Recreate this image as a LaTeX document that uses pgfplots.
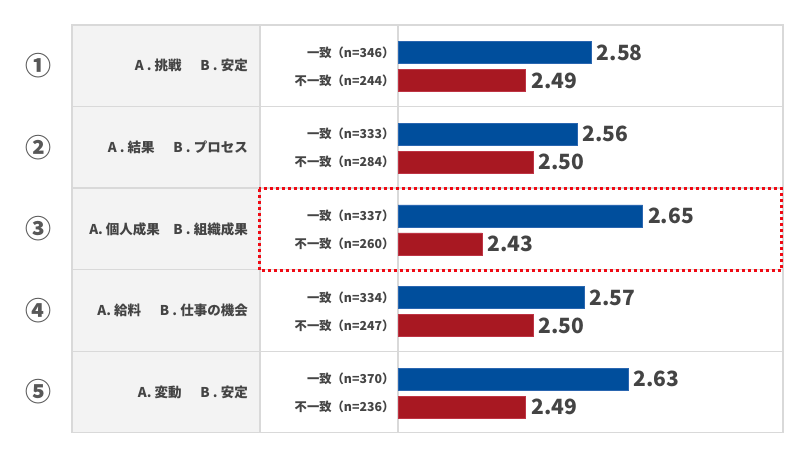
\documentclass[border=0pt]{standalone}
\usepackage{pgfplots}
\pgfplotsset{compat=1.18}
\usepackage{fontspec}
\setmainfont{Noto Sans CJK JP}
\definecolor{barblue}{HTML}{004E9C}
\definecolor{barblueedge}{HTML}{2A66B0}
\definecolor{barred}{HTML}{A81822}
\definecolor{barrededge}{HTML}{BE3444}
\definecolor{gridgray}{HTML}{D9D9D9}
\definecolor{cellgray}{HTML}{F3F3F3}
\definecolor{txt}{HTML}{444444}
\definecolor{circ}{HTML}{585858}
\definecolor{dotred}{HTML}{F00A14}
\begin{document}
\begin{tikzpicture}[x=1pt,y=1pt]
\useasboundingbox (0,0) rectangle (790,-459);
% table background and grid
\fill[cellgray] (72,-25) rectangle (260,-432.7);
\draw[gridgray,line width=1.4pt] (72,-25) rectangle (783,-432.7);
\foreach \yy in {106.5,188.1,269.6,351.2}{
  \draw[gridgray,line width=1.4pt] (72,-\yy) -- (783,-\yy);
}
\draw[gridgray,line width=1.4pt] (260,-25) -- (260,-432.7);
\draw[gridgray,line width=1.4pt] (398,-25) -- (398,-432.7);
% circled numbers
\foreach \yy/\t in {65.75/①,147.3/②,228.85/③,310.4/④,392.0/⑤}{
  \node[text=circ,font=\fontsize{26}{26}\selectfont\bfseries] at (38,-\yy) {\t};
}
% category labels
\foreach \yy/\t in {65.75/{A . 挑戦\hspace{1.4em}B . 安定},147.3/{A . 結果\hspace{1.4em}B . プロセス},228.85/{A. 個人成果\hspace{1.0em}B . 組織成果},310.4/{A. 給料\hspace{1.4em}B . 仕事の機会},392.0/{A. 変動\hspace{1.4em}B . 安定}}{
  \node[anchor=east,inner sep=0pt,text=txt,font=\fontsize{13.5}{13.5}\selectfont\bfseries] at (248,-\yy) {\t};
}
\begin{axis}[
  at={(398pt,-432.7pt)}, anchor=south west,
  scale only axis, width=385pt, height=407.7pt,
  xmin=2.315, xmax=2.842, ymin=-432.7, ymax=-25,
  axis line style={draw=none},
  major tick length=0pt,
  xtick=\empty,
  ytick={-407.0,-379.0,-325.4,-297.4,-243.9,-215.9,-162.3,-134.3,-80.8,-52.8},
  yticklabels={不一致（n=236）,一致（n=370）,不一致（n=247）,一致（n=334）,不一致（n=260）,一致（n=337）,不一致（n=284）,一致（n=333）,不一致（n=244）,一致（n=346）},
  yticklabel style={anchor=east,inner sep=0pt,xshift=-3.5pt,text=txt,font=\fontsize{12.3}{12.3}\selectfont\bfseries},
  xbar,
  bar width=22pt,
  /pgf/number format/assume math mode=true,
  nodes near coords={\pgfmathprintnumber[fixed,fixed zerofill,precision=2]{\pgfplotspointmeta}},
  nodes near coords style={anchor=west,inner sep=0pt,xshift=5pt,text=txt,font=\fontsize{21}{21}\selectfont\bfseries},
]
\addplot[bar shift=0pt,fill=barblue,draw=barblueedge,line width=0.8pt] coordinates {(2.58,-52.8) (2.56,-134.3) (2.65,-215.9) (2.57,-297.4) (2.63,-379.0)};
\addplot[bar shift=0pt,fill=barred,draw=barrededge,line width=0.8pt] coordinates {(2.49,-80.8) (2.50,-162.3) (2.43,-243.9) (2.50,-325.4) (2.49,-407.0)};
\end{axis}
\draw[dotred,line width=3pt,dash pattern=on 3pt off 3pt] (259,-188.6) rectangle (781.5,-270);
\end{tikzpicture}
\end{document}
